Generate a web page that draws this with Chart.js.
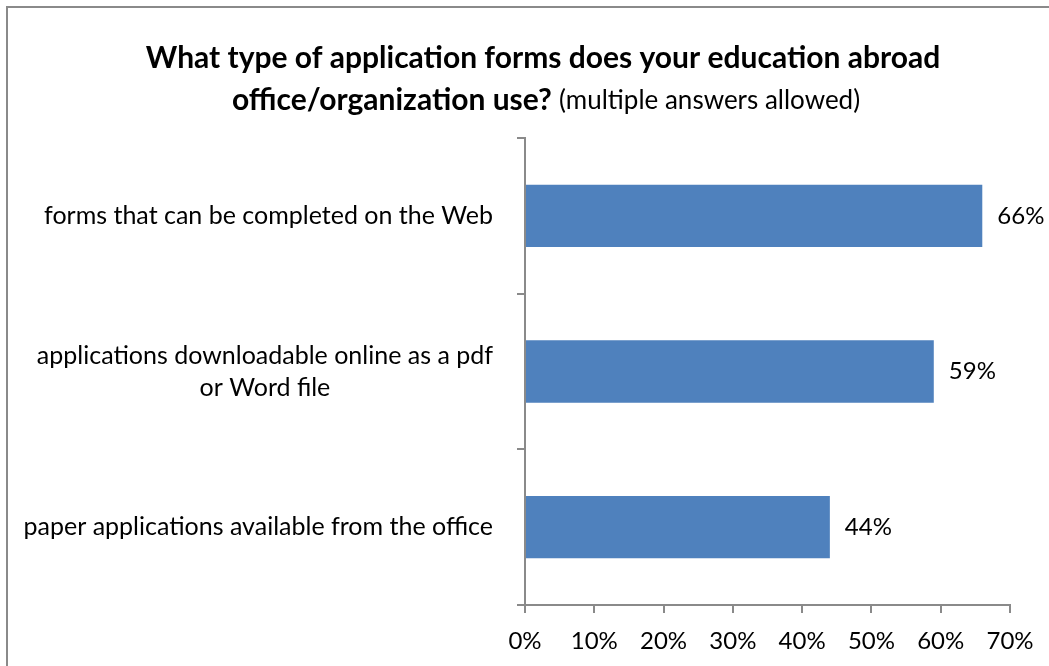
<!DOCTYPE html>
<html>
<head>
<meta charset="utf-8">
<script src="https://cdn.jsdelivr.net/npm/chart.js@4.4.1/dist/chart.umd.min.js"></script>
<style>
  html, body { margin: 0; padding: 0; background: #fff; }
</style>
</head>
<body>
<canvas id="formsChart" width="1049" height="666"></canvas>
<script>
// survey answers, one entry per bar (multi-line labels as arrays)
const categories = [
  ["forms that can be completed on the Web"],
  ["applications downloadable online as a pdf", "or Word file"],
  ["paper applications available from the office"]
];
const shares = [66, 59, 44];
const axisMin = 0, axisMax = 70, axisStep = 10;

const titleMain = "What type of application forms does your education abroad";
const titleBold = "office/organization use?";
const titleNote = "(multiple answers allowed)";

const FONT = "Lato, 'Open Sans', sans-serif";
const GREY = "#8a8a8a";

// outer frame of the chart object
const framePlugin = {
  id: "frame",
  beforeDraw(chart) {
    const ctx = chart.ctx;
    ctx.save();
    ctx.fillStyle = "#fff";
    ctx.fillRect(0, 0, chart.width, chart.height);
    ctx.strokeStyle = GREY;
    ctx.lineWidth = 2;
    ctx.strokeRect(7, 7, chart.width + 20, chart.height + 20);
    ctx.restore();
  }
};

// two-line title, second line mixes bold and regular text
const titlePlugin = {
  id: "mixedTitle",
  afterDraw(chart) {
    const ctx = chart.ctx;
    ctx.save();
    ctx.fillStyle = "#000";
    ctx.textBaseline = "middle";
    ctx.textAlign = "center";
    ctx.font = "bold 30px " + FONT;
    ctx.fillText(titleMain, 543, 58);

    ctx.textAlign = "left";
    const boldW = ctx.measureText(titleBold + " ").width;
    ctx.font = "26px " + FONT;
    const noteW = ctx.measureText(titleNote).width;
    const x0 = 546 - (boldW + noteW) / 2;
    ctx.font = "bold 30px " + FONT;
    ctx.fillText(titleBold, x0, 100);
    ctx.font = "26px " + FONT;
    ctx.fillText(titleNote, x0 + boldW, 101);
    ctx.restore();
  }
};

// category labels: block right-aligned to the axis, lines centred inside it
const categoryLabels = {
  id: "categoryLabels",
  afterDraw(chart) {
    const ctx = chart.ctx;
    const y = chart.scales.y;
    ctx.save();
    ctx.font = "25px " + FONT;
    ctx.fillStyle = "#000";
    ctx.textAlign = "center";
    ctx.textBaseline = "middle";
    categories.forEach((lines, i) => {
      const cy = y.getPixelForValue(i);
      const w = Math.max(...lines.map(l => ctx.measureText(l).width));
      const cx = 493 - w / 2;
      lines.forEach((l, j) => {
        ctx.fillText(l, cx, cy + (j - (lines.length - 1) / 2) * 32);
      });
    });
    ctx.restore();
  }
};

// percentage next to the end of each bar
const valueLabels = {
  id: "valueLabels",
  afterDatasetsDraw(chart) {
    const ctx = chart.ctx;
    const meta = chart.getDatasetMeta(0);
    ctx.save();
    ctx.font = "24px " + FONT;
    ctx.fillStyle = "#000";
    ctx.textAlign = "left";
    ctx.textBaseline = "middle";
    meta.data.forEach((bar, i) => {
      ctx.fillText(shares[i] + "%", bar.x + 15, bar.y);
    });
    ctx.restore();
  }
};

new Chart(document.getElementById("formsChart"), {
  type: "bar",
  data: {
    labels: categories,
    datasets: [{
      data: shares,
      backgroundColor: "#4F81BD",
      borderWidth: 0,
      barPercentage: 0.4,
      categoryPercentage: 1
    }]
  },
  options: {
    indexAxis: "y",
    responsive: false,
    animation: false,
    events: [],
    layout: { padding: { top: 138, right: 39, left: 0, bottom: 0 } },
    plugins: { legend: { display: false }, tooltip: { enabled: false } },
    scales: {
      x: {
        min: axisMin, max: axisMax,
        afterFit(scale) { scale.height = 61; },
        border: { color: GREY, width: 2 },
        grid: { drawOnChartArea: false, tickLength: 8, color: GREY, lineWidth: 2 },
        ticks: {
          stepSize: axisStep,
          padding: 14,
          color: "#000",
          font: { family: FONT, size: 24 },
          callback: v => v + "%"
        }
      },
      y: {
        afterFit(scale) { scale.width = 525; },
        border: { color: GREY, width: 2 },
        grid: { drawOnChartArea: false, offset: true, tickLength: 8, color: GREY, lineWidth: 2 },
        ticks: { display: false }
      }
    }
  },
  plugins: [framePlugin, titlePlugin, categoryLabels, valueLabels]
});
</script>
</body>
</html>
